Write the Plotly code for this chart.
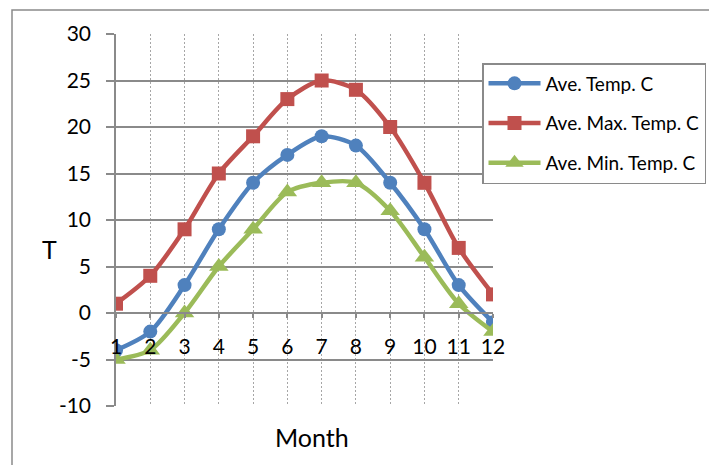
import plotly.graph_objects as go

months = [1, 2, 3, 4, 5, 6, 7, 8, 9, 10, 11, 12]
ave_temp = [-4, -2, 3, 9, 14, 17, 19, 18, 14, 9, 3, -1]
ave_max = [1, 4, 9, 15, 19, 23, 25, 24, 20, 14, 7, 2]
ave_min = [-5, -4, 0, 5, 9, 13, 14, 14, 11, 6, 1, -2]
y_ticks = [-10, -5, 0, 5, 10, 15, 20, 25, 30]

W, H = 709, 465
L, R, T, B = 116, 493, 34, 406  # plot area pixel edges
FONT = "Lato"
GRID = "#8a8a8a"

def px_x(p):
    return (p - L) / (R - L)

def px_y(p):
    return (B - p) / (B - T)

series = [
    ("Ave. Temp. C", ave_temp, "#4F81BD", "circle", 14),
    ("Ave. Max. Temp. C", ave_max, "#C0504D", "square", 14),
    ("Ave. Min. Temp. C", ave_min, "#9BBB59", "triangle-up", 17),
]

fig = go.Figure()
for i, (name, vals, color, sym, size) in enumerate(series):
    fig.add_trace(go.Scatter(
        x=months, y=vals, name=name, mode="lines+markers",
        line=dict(color=color, width=4.5, shape="spline", smoothing=0.8),
        marker=dict(symbol=sym, size=size, color=color),
        legendgroup=f"g{i}",
    ))

fig.update_layout(
    width=W, height=H,
    margin=dict(l=L, r=W - R, t=T, b=H - B, autoexpand=False),
    paper_bgcolor="white", plot_bgcolor="white",
    font=dict(family=FONT, size=21, color="black"),
    showlegend=True,
    legend=dict(
        x=px_x(482), y=px_y(63), xanchor="left", yanchor="top",
        bordercolor=GRID, borderwidth=1.5, bgcolor="white",
        font=dict(family=FONT, size=19, color="black"),
        itemwidth=52, tracegroupgap=12,
    ),
    xaxis=dict(
        range=[1, 12], tickvals=months, ticktext=[str(m) for m in months],
        showgrid=True, gridcolor="#a6a6a6", griddash="2px,2px", gridwidth=1,
        showline=True, linecolor=GRID, linewidth=1.5,
        anchor="free", position=10 / 40,
        ticks="outside", ticklen=4, tickcolor=GRID, tickwidth=1.5,
        ticklabelstandoff=11, zeroline=False,
    ),
    yaxis=dict(
        range=[-10, 30], tickvals=y_ticks, ticktext=[str(v) for v in y_ticks],
        showgrid=True, gridcolor=GRID, gridwidth=1.5,
        showline=True, linecolor=GRID, linewidth=1.5,
        ticks="outside", ticklen=8, tickcolor=GRID, tickwidth=1.5,
        ticklabelstandoff=11, zeroline=False,
    ),
    annotations=[
        dict(text="Month", x=px_x(312), y=px_y(437), xref="paper", yref="paper",
             xanchor="center", yanchor="middle",
             showarrow=False, font=dict(family=FONT, size=25)),
        dict(text="T", x=px_x(49), y=px_y(249), xref="paper", yref="paper",
             xanchor="center", yanchor="middle",
             showarrow=False, font=dict(family=FONT, size=25)),
    ],
    shapes=[
        dict(type="rect", xref="paper", yref="paper",
             x0=px_x(12), x1=px_x(720), y0=px_y(480), y1=px_y(10),
             line=dict(color=GRID, width=1.5), layer="below"),
    ],
)

fig.write_html("out.html", config={"displayModeBar": False},
               post_script="document.body.style.margin='0';")
